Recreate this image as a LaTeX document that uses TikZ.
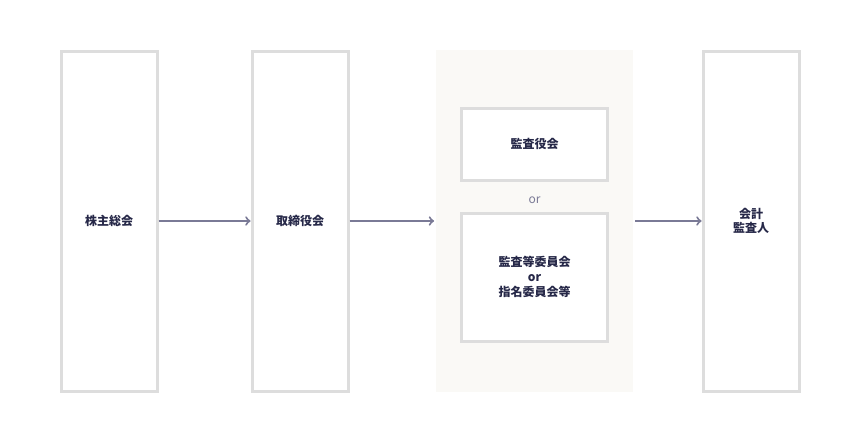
\documentclass[tikz,border=0pt]{standalone}
\usepackage{fontspec}
\setmainfont{Noto Sans CJK JP}
\usetikzlibrary{positioning}
\definecolor{boxgray}{RGB}{221,221,221}
\definecolor{panelbg}{RGB}{250,249,246}
\definecolor{arrowc}{RGB}{122,122,150}
\definecolor{textc}{RGB}{38,40,72}
\begin{document}
\begin{tikzpicture}[x=0.75pt,y=0.75pt,yscale=-1,xscale=1,
  organ/.style={draw=boxgray,line width=2.25pt,minimum width=72pt,minimum height=255pt,text=textc,font=\bfseries\small,align=center},
  inner/.style={draw=boxgray,line width=2.25pt,fill=white,minimum width=110pt,text=textc,font=\bfseries\small,align=center},
  flow/.style={draw=arrowc,line width=1.5pt,-to}]
\useasboundingbox (0,0) rectangle (860,443);

%Panel
\fill [panelbg] (436,50) rectangle (633,392);

%Organs
\node [organ] (meeting) at (109,221) {株主総会};
\node [organ] (board) at (300,221) {取締役会};
\node [organ] (auditor) at (751,221) {会計\\監査人};
\coordinate (panelL) at (434,221);
\coordinate (panelR) at (635,221);

%Inner boxes
\node [inner,minimum height=54pt] (kansa) at (534.5,144) {監査役会};
\node [text=arrowc,font=\small] (or) at (534.5,200) {or};
\node [inner,minimum height=96pt] (iinkai) at (534.5,277) {監査等委員会\\or\\指名委員会等};

%Arrows
\draw [flow] (meeting.east) -- (board.west);
\draw [flow] (board.east) -- (panelL);
\draw [flow] (panelR) -- (auditor.west);
\end{tikzpicture}
\end{document}
